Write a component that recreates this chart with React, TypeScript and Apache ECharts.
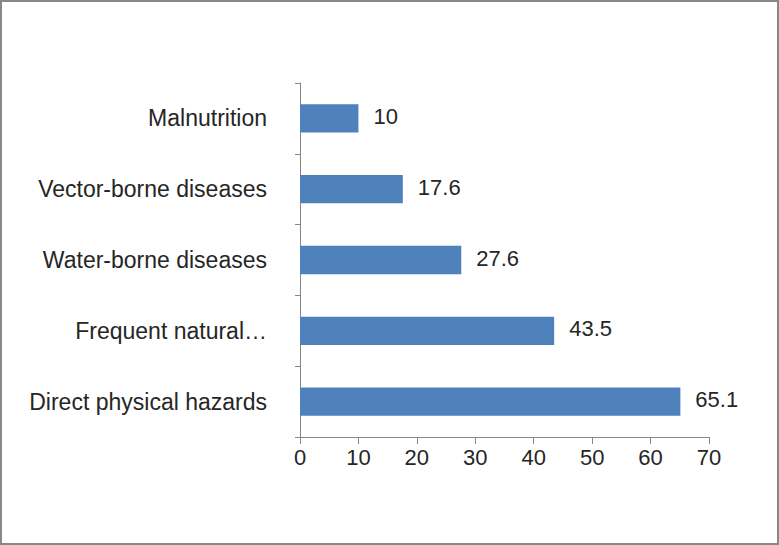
import React, { useEffect, useRef } from "react";
import * as echarts from "echarts";

const categories = [
  "Malnutrition",
  "Vector-borne diseases",
  "Water-borne diseases",
  "Frequent natural…",
  "Direct physical hazards",
];
const values = [10, 17.6, 27.6, 43.5, 65.1];
const xTicks = { min: 0, max: 70, interval: 10 };

export default function App() {
  const ref = useRef<HTMLDivElement>(null);
  useEffect(() => {
    document.body.style.margin = "0";
    const chart = echarts.init(ref.current!, undefined, { renderer: "svg" });
    const font = "'Liberation Sans', Arial, sans-serif";
    chart.setOption({
      animation: false,
      backgroundColor: "#ffffff",
      grid: { left: 298, right: 68, top: 81, bottom: 106, containLabel: false },
      xAxis: {
        type: "value",
        min: xTicks.min,
        max: xTicks.max,
        interval: xTicks.interval,
        axisLine: { show: true, lineStyle: { color: "#868686", width: 1 } },
        axisTick: { show: true, length: 7, lineStyle: { color: "#868686" } },
        splitLine: { show: false },
        axisLabel: { color: "#262626", fontSize: 22, fontFamily: font, margin: 9 },
      },
      yAxis: {
        type: "category",
        data: categories,
        inverse: true,
        axisLine: { show: true, lineStyle: { color: "#868686", width: 1 } },
        axisTick: { show: true, length: 5, alignWithLabel: false, lineStyle: { color: "#868686" } },
        axisLabel: {
          color: "#262626",
          fontSize: 23,
          fontFamily: font,
          margin: 33,
          padding: [0, 0, 5, 0],
        },
      },
      series: [
        {
          type: "bar",
          data: values,
          barWidth: "40%",
          itemStyle: { color: "#4F81BD" },
          label: {
            show: true,
            position: "right",
            distance: 15,
            offset: [0, -2],
            color: "#262626",
            fontSize: 22,
            fontFamily: font,
          },
        },
      ],
    });
    return () => chart.dispose();
  }, []);
  return (
    <div
      ref={ref}
      style={{
        width: 779,
        height: 545,
        boxSizing: "border-box",
        border: "2px solid #888888",
        position: "relative",
      }}
    />
  );
}
